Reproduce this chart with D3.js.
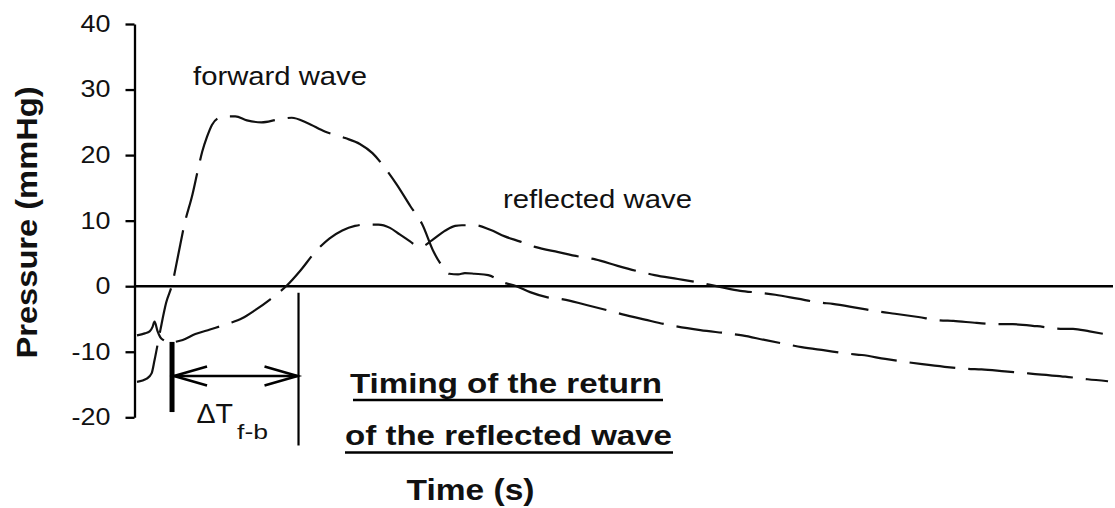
<!DOCTYPE html>
<html>
<head>
<meta charset="utf-8">
<script src="https://cdn.jsdelivr.net/npm/d3@7"></script>
<style>
  html, body { margin: 0; padding: 0; background: #fff; }
  svg { display: block; font-family: "Liberation Sans", Arial, sans-serif; }
</style>
</head>
<body>
<svg id="chart" width="1115" height="508"></svg>
<script>
// Time samples (s) and pressures (mmHg) of the separated waves
const forwardTime = [0.000,0.010,0.015,0.018,0.024,0.030,0.036,0.042,0.049,0.057,0.063,0.067,0.072,0.077,0.083,0.090,0.101,0.113,0.128,0.144,0.159,0.175,0.193,0.214,0.229,0.242,0.255,0.267,0.281,0.293,0.305,0.314,0.321,0.330,0.337,0.347,0.361,0.376,0.390,0.404,0.422,0.438,0.460,0.484,0.499,0.522,0.546,0.579,0.607,0.622,0.645,0.669,0.683,0.707,0.731,0.745,0.769,0.792,0.807,0.830,0.854,0.868,0.892,0.916,0.930,0.954,0.977,0.998];
const forwardPressure = [-14.6,-14.1,-13.3,-11.3,-6.7,-2.5,0.2,4.5,9.6,14.0,18.0,20.5,22.8,24.6,25.6,25.9,25.9,25.3,25.0,25.4,25.7,24.9,23.6,22.6,21.7,20.3,18.0,15.5,12.2,9.5,5.2,3.0,1.9,1.8,2.0,1.9,1.7,0.6,0.0,-0.9,-1.7,-2.0,-2.8,-3.7,-4.3,-5.1,-5.9,-6.7,-7.2,-7.5,-8.2,-8.9,-9.3,-9.8,-10.3,-10.5,-11.1,-11.6,-11.9,-12.3,-12.6,-12.7,-13.0,-13.3,-13.5,-13.8,-14.2,-14.5];

const reflectedTime = [0.000,0.008,0.013,0.016,0.018,0.021,0.024,0.028,0.032,0.039,0.047,0.060,0.075,0.094,0.108,0.121,0.137,0.154,0.168,0.183,0.198,0.211,0.224,0.234,0.248,0.260,0.270,0.281,0.287,0.293,0.303,0.317,0.327,0.334,0.347,0.363,0.378,0.394,0.409,0.433,0.455,0.471,0.494,0.517,0.532,0.556,0.579,0.599,0.620,0.640,0.656,0.679,0.702,0.715,0.740,0.764,0.779,0.803,0.825,0.839,0.863,0.887,0.900,0.925,0.949,0.962,0.979,0.998];
const reflectedPressure = [-7.5,-7.2,-6.9,-6.2,-5.4,-6.8,-7.8,-8.3,-8.7,-8.5,-8.2,-7.3,-6.6,-5.7,-4.9,-3.7,-2.0,0.1,2.4,5.2,7.3,8.5,9.2,9.4,9.4,8.9,7.9,6.8,6.2,6.1,7.0,8.5,9.2,9.3,9.3,8.6,7.6,6.8,6.0,5.2,4.5,4.1,3.1,2.2,1.7,1.1,0.5,-0.1,-0.7,-1.0,-1.3,-1.9,-2.5,-2.7,-3.3,-3.9,-4.2,-4.7,-5.2,-5.3,-5.6,-5.8,-5.8,-6.1,-6.5,-6.5,-6.9,-7.4];

const pressureTicks = [-20, -10, 0, 10, 20, 30, 40];

// Annotation times (s) and pressure extents (mmHg)
const footTime = 0.036;        // foot of the forward wave
const returnTime = 0.166;      // arrival of the reflected wave
const footBar = [-8.5, -19.2];
const returnBar = [-1.0, -24.3];
const arrowLevel = -13.7;

const svg = d3.select("#chart");

const x = d3.scaleLinear().domain([0, 1]).range([137, 1110]);
const y = d3.scaleLinear().domain([-20, 40]).range([417.3, 24]);

// stretch text horizontally by factor k
function stretch(sel, k) {
  sel.each(function () {
    const w = this.getComputedTextLength();
    d3.select(this).attr("textLength", w * k).attr("lengthAdjust", "spacingAndGlyphs");
  });
}

// y axis
const yAxis = svg.append("g")
  .attr("transform", "translate(134.5,0)")
  .call(d3.axisLeft(y).tickValues(pressureTicks).tickFormat(d => String(d))
    .tickSize(9).tickSizeOuter(0).tickPadding(15));
yAxis.select(".domain").attr("stroke", "#000").attr("stroke-width", 2.3);
yAxis.selectAll(".tick line").attr("stroke", "#000").attr("stroke-width", 2.3);
yAxis.selectAll(".tick text")
  .attr("fill", "#111")
  .style("font-size", "23px")
  .style("font-family", "'Liberation Sans', Arial, sans-serif")
  .call(stretch, 1.17);

// zero reference line
svg.append("line")
  .attr("x1", 134).attr("x2", 1113)
  .attr("y1", y(0)).attr("y2", y(0))
  .attr("stroke", "#000").attr("stroke-width", 2.6);

// waves
const line = d3.line()
  .x(d => x(d[0]))
  .y(d => y(d[1]))
  .curve(d3.curveMonotoneX);

const waves = [
  d3.zip(forwardTime, forwardPressure),
  d3.zip(reflectedTime, reflectedPressure)
];

svg.selectAll("path.wave")
  .data(waves)
  .join("path")
  .attr("class", "wave")
  .attr("d", line)
  .attr("fill", "none")
  .attr("stroke", "#111")
  .attr("stroke-width", 2.2)
  .attr("stroke-dasharray", "46,13");

// wave labels
svg.append("text").attr("x", 193).attr("y", 85)
  .style("font-size", "26px").attr("fill", "#111")
  .text("forward wave").attr("textLength", 174).attr("lengthAdjust", "spacingAndGlyphs");
svg.append("text").attr("x", 503).attr("y", 208)
  .style("font-size", "26px").attr("fill", "#111")
  .text("reflected wave").attr("textLength", 189).attr("lengthAdjust", "spacingAndGlyphs");

// axis titles
svg.append("text")
  .attr("transform", "translate(36.5,222.5) rotate(-90)")
  .attr("text-anchor", "middle")
  .style("font-size", "30px").style("font-weight", "bold").attr("fill", "#111")
  .text("Pressure (mmHg)").attr("textLength", 272).attr("lengthAdjust", "spacingAndGlyphs");
svg.append("text").attr("x", 406.5).attr("y", 500)
  .style("font-size", "29px").style("font-weight", "bold").attr("fill", "#111")
  .text("Time (s)").attr("textLength", 128).attr("lengthAdjust", "spacingAndGlyphs");

// timing annotation
svg.append("line")
  .attr("x1", x(footTime)).attr("x2", x(footTime))
  .attr("y1", y(footBar[0])).attr("y2", y(footBar[1]))
  .attr("stroke", "#000").attr("stroke-width", 5);
svg.append("line")
  .attr("x1", x(returnTime)).attr("x2", x(returnTime))
  .attr("y1", y(returnBar[0])).attr("y2", y(returnBar[1]))
  .attr("stroke", "#000").attr("stroke-width", 2.2);

const ax0 = x(footTime) + 2, ax1 = x(returnTime) - 1, ay = y(arrowLevel);
const arrow = svg.append("g").attr("stroke", "#000").attr("stroke-width", 2.6).attr("fill", "none");
arrow.append("line").attr("x1", ax0).attr("x2", ax1).attr("y1", ay).attr("y2", ay);
arrow.append("path").attr("d", `M${ax0 + 33},${ay - 9.5}L${ax0},${ay}L${ax0 + 33},${ay + 9.5}`);
arrow.append("path").attr("d", `M${ax1 - 33},${ay - 9.5}L${ax1},${ay}L${ax1 - 33},${ay + 9.5}`);

svg.append("text").attr("x", 196.5).attr("y", 422.7)
  .style("font-size", "28px").attr("fill", "#111")
  .text("ΔT").attr("textLength", 36.5).attr("lengthAdjust", "spacingAndGlyphs");
svg.append("text").attr("x", 237).attr("y", 439)
  .style("font-size", "21px").attr("fill", "#111")
  .text("f-b").attr("textLength", 31).attr("lengthAdjust", "spacingAndGlyphs");

svg.append("text").attr("x", 350).attr("y", 393.3)
  .style("font-size", "27px").style("font-weight", "bold").attr("fill", "#111")
  .text("Timing of the return").attr("textLength", 312).attr("lengthAdjust", "spacingAndGlyphs");
svg.append("line").attr("x1", 353).attr("x2", 663).attr("y1", 400).attr("y2", 400)
  .attr("stroke", "#000").attr("stroke-width", 2.6);
svg.append("text").attr("x", 345).attr("y", 444.5)
  .style("font-size", "27px").style("font-weight", "bold").attr("fill", "#111")
  .text("of the reflected wave").attr("textLength", 327).attr("lengthAdjust", "spacingAndGlyphs");
svg.append("line").attr("x1", 345).attr("x2", 673).attr("y1", 452.5).attr("y2", 452.5)
  .attr("stroke", "#000").attr("stroke-width", 2.6);
</script>
</body>
</html>
